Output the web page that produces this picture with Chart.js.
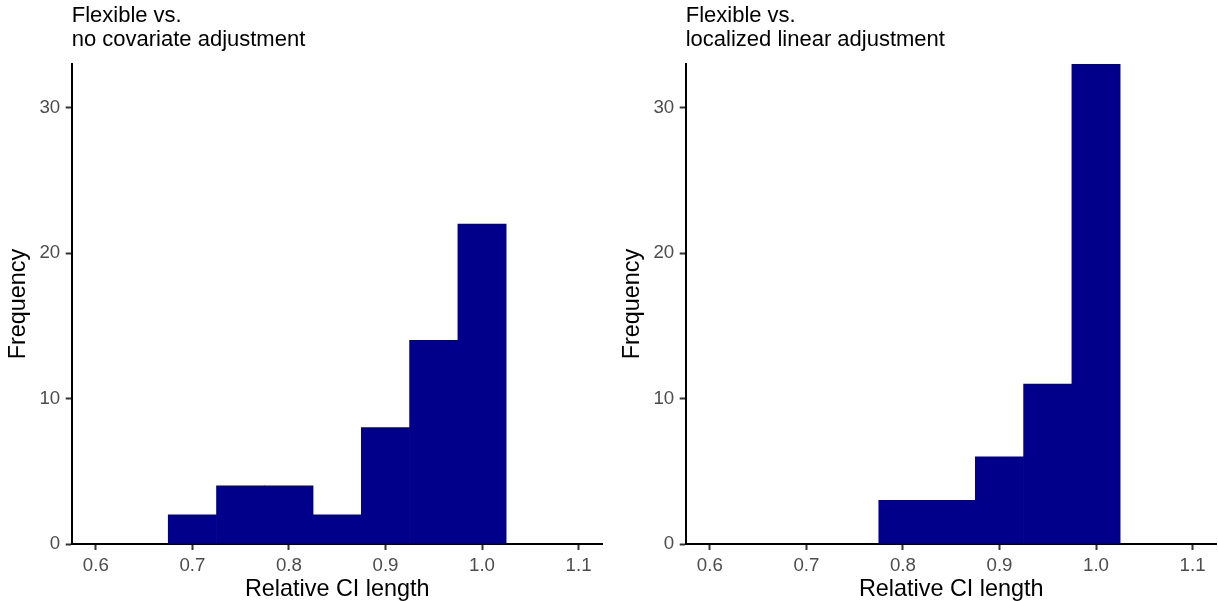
<!DOCTYPE html>
<html>
<head>
<meta charset="utf-8">
<script src="https://cdn.jsdelivr.net/npm/chart.js@4/dist/chart.umd.min.js"></script>
<style>
  html, body { margin: 0; padding: 0; background: #fff; }
  #wrap { position: relative; width: 1218px; height: 601px; }
  .panel { position: absolute; top: 0; width: 609px; height: 601px; }
</style>
</head>
<body>
<div id="wrap">
  <div class="panel" style="left:0"><canvas id="left" width="609" height="601"></canvas></div>
  <div class="panel" style="left:609px"><canvas id="right" width="609" height="601"></canvas></div>
</div>
<script>
// bin centres (width 0.05) and counts
const leftBins    = [0.70, 0.75, 0.80, 0.85, 0.90, 0.95, 1.00]
const leftCounts  = [2, 4, 4, 2, 8, 14, 22]
const rightBins   = [0.80, 0.85, 0.90, 0.95, 1.00]
const rightCounts = [3, 3, 6, 11, 33]

const xTicks = [0.6, 0.7, 0.8, 0.9, 1.0, 1.1]
const yTicks = [0, 10, 20, 30]

const leftTitle  = ['Flexible vs.', 'no covariate adjustment']
const rightTitle = ['Flexible vs.', 'localized linear adjustment']

const FONT = "'Liberation Sans', Arial, sans-serif"
const BAR = '#00008B'

// plot title aligned to the panel's left edge, like ggplot
const panelTitle = {
  id: 'panelTitle',
  afterDraw(chart, args, opts) {
    const c = chart.ctx
    c.save()
    c.fillStyle = '#000'
    c.font = '22px ' + FONT
    c.textAlign = 'left'
    c.textBaseline = 'middle'
    opts.lines.forEach((t, i) => c.fillText(t, chart.chartArea.left, 16 + i * 24))
    c.restore()
  }
}

function makeHist(id, bins, counts, title, yWidth, padRight, yTitleTop) {
  const ctx = document.getElementById(id).getContext('2d')
  return new Chart(ctx, {
    type: 'bar',
    plugins: [panelTitle],
    data: {
      datasets: [{
        data: bins.map((x, i) => ({ x, y: counts[i] })),
        backgroundColor: BAR,
        borderWidth: 0,
        barPercentage: 1,
        categoryPercentage: 1
      }]
    },
    options: {
      responsive: false,
      animation: false,
      events: [],
      layout: { padding: { top: 64, right: padRight, left: 0, bottom: 0 } },
      plugins: {
        legend: { display: false },
        title: { display: false },
        tooltip: { enabled: false },
        panelTitle: { lines: title }
      },
      scales: {
        x: {
          type: 'linear',
          min: 0.575, max: 1.125,
          offset: false,
          z: 1,
          afterBuildTicks: s => { s.ticks = xTicks.map(v => ({ value: v })) },
          afterFit: s => { s.height = 57 },
          ticks: { color: '#4d4d4d', font: { family: FONT, size: 18.7 }, padding: 5,
                   maxRotation: 0, autoSkip: false, callback: v => v.toFixed(1) },
          grid: { display: true, offset: false, drawOnChartArea: false, drawTicks: true,
                  tickLength: 6, tickWidth: 2, tickColor: '#333' },
          border: { display: true, color: '#000', width: 2 },
          title: { display: true, text: 'Relative CI length', color: '#000',
                   font: { family: FONT, size: 23.4 }, padding: { top: 0, bottom: -3 } }
        },
        y: {
          type: 'linear',
          min: 0, max: 33,
          z: 1,
          afterBuildTicks: s => { s.ticks = yTicks.map(v => ({ value: v })) },
          afterFit: s => { s.width = yWidth },
          ticks: { color: '#4d4d4d', font: { family: FONT, size: 18.7 }, padding: 5.5 },
          grid: { display: true, drawOnChartArea: false, drawTicks: true,
                  tickLength: 6, tickWidth: 2, tickColor: '#333' },
          border: { display: true, color: '#000', width: 2 },
          title: { display: true, text: 'Frequency', color: '#000',
                   font: { family: FONT, size: 23.4 }, padding: { top: yTitleTop, bottom: 0 } }
        }
      }
    }
  })
}

makeHist('left', leftBins, leftCounts, leftTitle, 71.7, 6.3, 4.3)
makeHist('right', rightBins, rightCounts, rightTitle, 76.7, 1.3, 9.3)
</script>
</body>
</html>
